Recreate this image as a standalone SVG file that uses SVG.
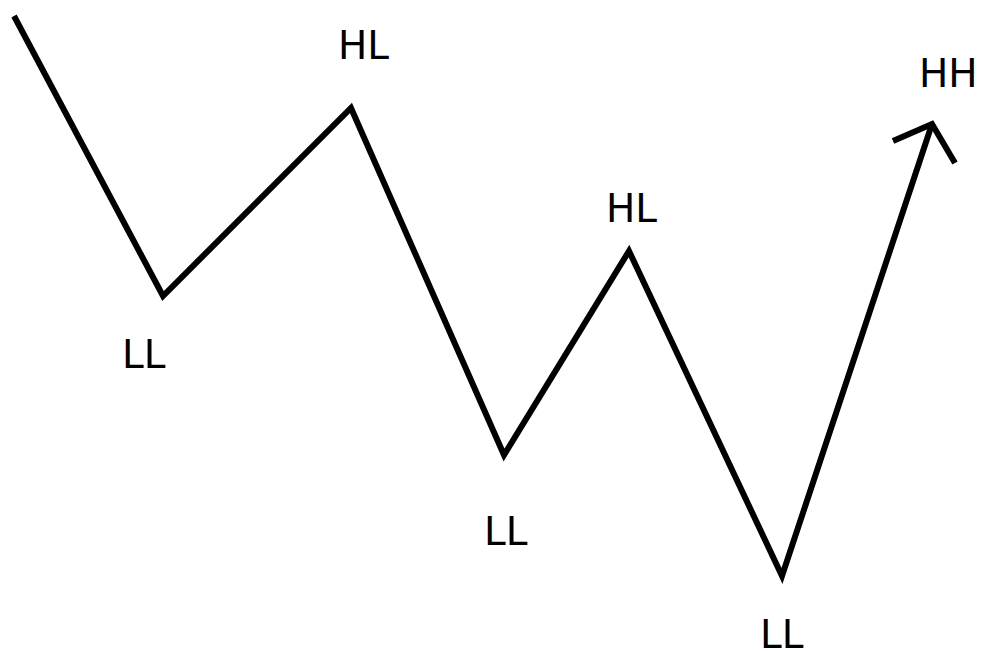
<svg xmlns="http://www.w3.org/2000/svg" width="989" height="652" viewBox="0 0 989 652">
<style>
.ln{fill:none;stroke:#000;stroke-width:6;stroke-linejoin:miter;stroke-linecap:butt}
.lb{font-family:"DejaVu Sans",sans-serif;font-size:39px;fill:#000}
</style>
<rect width="989" height="652" fill="#fff"/>
<g id="connectors">
<polyline class="ln" points="14,16 163,296 351,108 504,455 629,251 782,576 932,124"/>
<polyline class="ln" points="893,141 932,124 955,163"/>
</g>
<g id="n-hl1"><text class="lb" x="338" y="59">HL</text></g>
<g id="n-ll1"><text class="lb" x="122" y="368">LL</text></g>
<g id="n-ll2"><text class="lb" x="484" y="545">LL</text></g>
<g id="n-hl2"><text class="lb" x="606" y="222">HL</text></g>
<g id="n-ll3"><text class="lb" x="760" y="648">LL</text></g>
<g id="n-hh"><text class="lb" x="919" y="87">HH</text></g>
</svg>
